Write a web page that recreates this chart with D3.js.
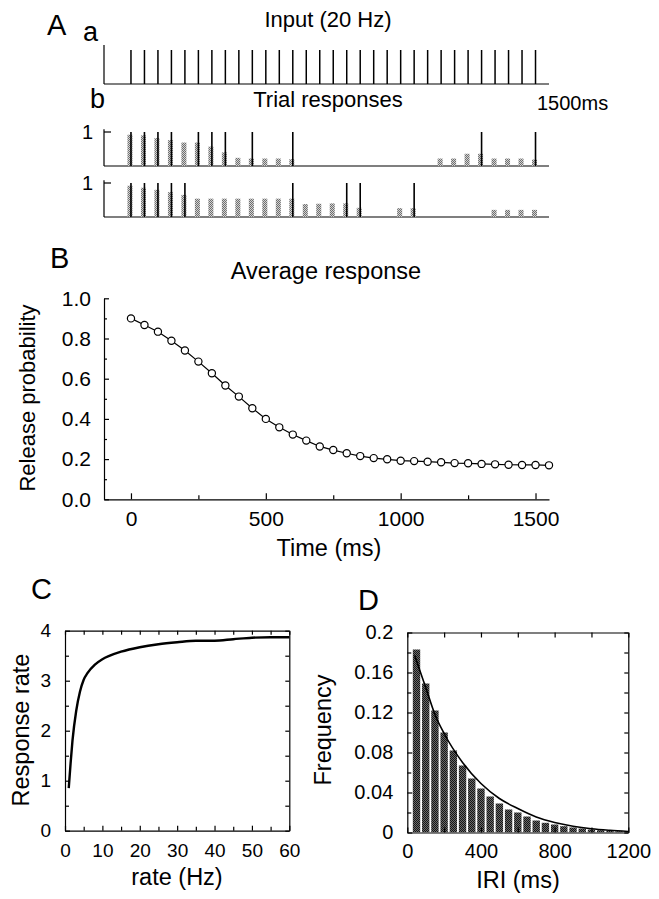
<!DOCTYPE html>
<html><head><meta charset="utf-8">
<script src="https://cdn.jsdelivr.net/npm/d3@7/dist/d3.min.js"></script>
<style>
body{margin:0;background:#fff}
svg{display:block;font-family:"Liberation Sans",Arial,Helvetica,sans-serif}
.ax path,.ax line{stroke:#000;stroke-width:1.2}
.ax text{fill:#000}
</style></head><body>
<svg id="c" width="659" height="899"></svg>
<script>
// ---------------- DATA ----------------
// Panel A(a): input spike train, 20 Hz over 1500 ms
const inputTimes = [0,50,100,150,200,250,300,350,400,450,500,550,600,650,700,750,800,850,900,950,1000,1050,1100,1150,1200,1250,1300,1350,1400,1450,1500];
// Panel A(b): trial responses
const trial1Spikes = [0,50,100,150,250,300,350,450,600,1300,1500];
const trial1Times  = [0,50,100,150,200,250,300,350,400,450,500,550,600,1150,1200,1250,1300,1350,1400,1450,1500];
const trial1Prob   = [0.92,0.90,0.82,0.76,0.69,0.69,0.57,0.40,0.24,0.22,0.22,0.22,0.20,0.22,0.22,0.36,0.36,0.22,0.22,0.22,0.19];
const trial2Spikes = [0,50,100,150,200,600,800,850,1050];
const trial2Times  = [0,50,100,150,200,250,300,350,400,450,500,550,600,650,700,750,800,850,1000,1050,1350,1400,1450,1500];
const trial2Prob   = [0.92,0.86,0.80,0.73,0.65,0.54,0.54,0.54,0.54,0.54,0.54,0.54,0.54,0.38,0.39,0.40,0.40,0.27,0.26,0.26,0.21,0.21,0.21,0.21];
// Panel B: average response
const avgTimes = [0,50,100,150,200,250,300,350,400,450,500,550,600,650,700,750,800,850,900,950,1000,1050,1100,1150,1200,1250,1300,1350,1400,1450,1500,1550];
const avgProb  = [0.900,0.867,0.834,0.789,0.740,0.685,0.627,0.566,0.511,0.453,0.400,0.358,0.322,0.292,0.263,0.245,0.229,0.215,0.205,0.199,0.192,0.190,0.187,0.184,0.180,0.179,0.176,0.174,0.172,0.171,0.171,0.169];
const avgYTicks = [0,0.2,0.4,0.6,0.8,1.0];
const avgXTicks = [0,500,1000,1500];
// Panel C: response rate vs input rate
const rateHz   = [1,1.5,2,3,4,5,6,8,10,12,15,20,25,30,35,40,45,50,55,60];
const respRate = [0.85,1.35,1.80,2.40,2.78,3.02,3.15,3.32,3.43,3.50,3.58,3.67,3.73,3.77,3.80,3.80,3.83,3.86,3.87,3.87];
const cXTicks = [0,10,20,30,40,50,60];
const cYTicks = [0,1,2,3,4];
// Panel D: IRI histogram and fit
const iriBins = [50,100,150,200,250,300,350,400,450,500,550,600,650,700,750,800,850,900,950,1000,1050,1100,1150,1200];
const iriFreq = [0.183,0.149,0.122,0.100,0.082,0.067,0.054,0.044,0.036,0.029,0.023,0.020,0.016,0.012,0.0097,0.008,0.0063,0.005,0.004,0.003,0.0023,0.0017,0.0013,0.001];
const fitT = [40,100,150,200,300,400,500,600,700,800,900,1000,1100,1200];
const fitV = [0.177,0.145,0.118,0.099,0.070,0.049,0.034,0.024,0.0155,0.010,0.0063,0.0038,0.0022,0.001];
const dXTicks = [0,400,800,1200];
const dYTicks = [0,0.04,0.08,0.12,0.16,0.2];

// ---------------- DRAW ----------------
const svg = d3.select("#c");
const defs = svg.append("defs");
const FONT = "Liberation Sans, Arial, sans-serif";
function dotPattern(id, bg, fg){
  const p = defs.append("pattern").attr("id",id).attr("width",2).attr("height",2).attr("patternUnits","userSpaceOnUse");
  p.append("rect").attr("width",2).attr("height",2).attr("fill",bg);
  p.append("rect").attr("x",0).attr("y",0).attr("width",1).attr("height",1).attr("fill",fg);
  p.append("rect").attr("x",1).attr("y",1).attr("width",1).attr("height",1).attr("fill",fg);
}
dotPattern("light","#d2d2d2","#6e6e6e");
dotPattern("dark","#6a6a6a","#161616");

function txt(x,y,s,size,anchor,rot){
  const t = svg.append("text").attr("x",x).attr("y",y).attr("font-size",size)
    .attr("text-anchor",anchor||"start").text(s);
  if(rot) t.attr("transform",`rotate(${rot},${x},${y})`);
  return t;
}
function line(x1,y1,x2,y2,w){
  svg.append("line").attr("x1",x1).attr("y1",y1).attr("x2",x2).attr("y2",y2)
    .attr("stroke","#000").attr("stroke-width",w||1.2);
}

// shared time scale for A & B
const xTime = d3.scaleLinear().domain([-100,1550]).range([104,549]);

// ---- Panel A ----
txt(47,35,"A",29);
txt(83,41,"a",27);
txt(328,27,"Input (20 Hz)",22,"middle");
const yA = d3.scaleLinear().domain([0,1]).range([84,50]);
line(xTime(-100),45,xTime(-100),yA(0));
line(xTime(-100),yA(0),xTime(1550),yA(0));
svg.append("g").selectAll("line").data(inputTimes).join("line")
  .attr("x1",d=>xTime(d)).attr("x2",d=>xTime(d))
  .attr("y1",yA(0)).attr("y2",yA(1)).attr("stroke","#000").attr("stroke-width",1.5);

txt(90,108,"b",27);
txt(328,107,"Trial responses",22,"middle");
txt(537,110,"1500ms",20,"start");

const trials = [
  {spikes:trial1Spikes, times:trial1Times, prob:trial1Prob, range:[166,132]},
  {spikes:trial2Spikes, times:trial2Times, prob:trial2Prob, range:[217,183]}
];
trials.forEach(tr=>{
  const y = d3.scaleLinear().domain([0,1]).range(tr.range);
  const x0 = xTime(-100);
  line(x0,y(1.08),x0,y(0));
  line(x0,y(1),x0+7,y(1));
  line(x0,y(0),xTime(1550),y(0));
  txt(x0-11,y(1)+7,"1",20,"end");
  const g = svg.append("g");
  g.selectAll("rect").data(tr.times.map((t,i)=>({t,p:tr.prob[i]}))).join("rect")
    .attr("x",d=>xTime(d.t)-3.5).attr("width",5)
    .attr("y",d=>y(d.p)).attr("height",d=>y(0)-y(d.p))
    .attr("fill","url(#light)");
  g.selectAll("line").data(tr.spikes).join("line")
    .attr("x1",d=>xTime(d)).attr("x2",d=>xTime(d))
    .attr("y1",y(0)).attr("y2",y(1)).attr("stroke","#000").attr("stroke-width",1.6);
});

// ---- Panel B ----
txt(50,268,"B",29);
txt(326,279,"Average response",23.5,"middle");
const yB = d3.scaleLinear().domain([0,1]).range([499.3,298.3]);
const gB = svg.append("g");
gB.append("g").attr("class","ax").attr("transform",`translate(${xTime(-100)},0)`)
  .call(d3.axisLeft(yB).tickValues(avgYTicks).tickSizeInner(-5).tickSizeOuter(0).tickPadding(13).tickFormat(d3.format(".1f")))
  .selectAll("text").attr("font-size",21).attr("font-family",FONT);
gB.append("g").attr("class","ax").attr("transform",`translate(${xTime(-100)},0)`)
  .call(d3.axisLeft(yB).tickValues([0.1,0.3,0.5,0.7,0.9]).tickSize(-3).tickFormat(""))
  .select(".domain").remove();
gB.append("g").attr("class","ax").attr("transform",`translate(0,${yB(0)})`)
  .call(d3.axisBottom(xTime).tickValues(avgXTicks).tickSizeInner(-6).tickSizeOuter(0).tickPadding(12).tickFormat(d3.format("d")))
  .selectAll("text").attr("font-size",21).attr("font-family",FONT);
gB.append("g").attr("class","ax").attr("transform",`translate(0,${yB(0)})`)
  .call(d3.axisBottom(xTime).tickValues([250,750,1250]).tickSize(-4).tickFormat(""))
  .select(".domain").remove();
gB.append("path").datum(avgTimes.map((t,i)=>[t,avgProb[i]]))
  .attr("d",d3.line().x(d=>xTime(d[0])).y(d=>yB(d[1])))
  .attr("fill","none").attr("stroke","#000").attr("stroke-width",1.2);
gB.selectAll("circle").data(avgTimes.map((t,i)=>[t,avgProb[i]])).join("circle")
  .attr("cx",d=>xTime(d[0])).attr("cy",d=>yB(d[1])).attr("r",3.6)
  .attr("fill","#fff").attr("stroke","#000").attr("stroke-width",1.2);
txt(329,556,"Time (ms)",23.5,"middle");
txt(35,398,"Release probability",22,"middle",-90);

// ---- Panel C ----
txt(31,599,"C",29);
const xC = d3.scaleLinear().domain([0,60]).range([65,289.3]);
const yC = d3.scaleLinear().domain([0,4]).range([830.7,630.7]);
const gC = svg.append("g");
const minorC = [5,15,25,35,45,55];
const minorCy = [0.5,1.5,2.5,3.5];
gC.append("g").attr("class","ax").attr("transform",`translate(0,${yC(0)})`)
  .call(d3.axisBottom(xC).tickValues(cXTicks).tickSizeInner(-5).tickSizeOuter(0).tickPadding(13).tickFormat(d3.format("d")))
  .selectAll("text").attr("font-size",19).attr("font-family",FONT);
gC.append("g").attr("class","ax").attr("transform",`translate(0,${yC(0)})`)
  .call(d3.axisBottom(xC).tickValues(minorC).tickSize(-4).tickFormat("")).select(".domain").remove();
gC.append("g").attr("class","ax").attr("transform",`translate(0,${yC(4)})`)
  .call(d3.axisTop(xC).tickValues(cXTicks.concat(minorC)).tickSizeInner(-4).tickSizeOuter(0).tickFormat(""));
gC.append("g").attr("class","ax").attr("transform",`translate(${xC(0)},0)`)
  .call(d3.axisLeft(yC).tickValues(cYTicks).tickSizeInner(-5).tickSizeOuter(0).tickPadding(14).tickFormat(d3.format("d")))
  .selectAll("text").attr("font-size",19).attr("font-family",FONT);
gC.append("g").attr("class","ax").attr("transform",`translate(${xC(0)},0)`)
  .call(d3.axisLeft(yC).tickValues(minorCy).tickSize(-4).tickFormat("")).select(".domain").remove();
gC.append("g").attr("class","ax").attr("transform",`translate(${xC(60)},0)`)
  .call(d3.axisRight(yC).tickValues(cYTicks.concat(minorCy)).tickSizeInner(-4).tickSizeOuter(0).tickFormat(""));
gC.append("path").datum(rateHz.map((r,i)=>[r,respRate[i]]))
  .attr("d",d3.line().curve(d3.curveMonotoneX).x(d=>xC(d[0])).y(d=>yC(d[1])))
  .attr("fill","none").attr("stroke","#000").attr("stroke-width",2.4);
txt(177,885,"rate (Hz)",23.5,"middle");
txt(29,730,"Response rate",23.5,"middle",-90);

// ---- Panel D ----
txt(358,610,"D",29);
const xD = d3.scaleLinear().domain([0,1200]).range([407.3,628.3]);
const yD = d3.scaleLinear().domain([0,0.2]).range([832.5,632.5]);
const gD = svg.append("g");
defs.append("clipPath").attr("id","dclip").append("rect")
  .attr("x",xD(0)).attr("y",yD(0.2)).attr("width",xD(1200)-xD(0)).attr("height",yD(0)-yD(0.2));
gD.append("g").attr("clip-path","url(#dclip)").selectAll("rect")
  .data(iriBins.map((t,i)=>[t,iriFreq[i]])).join("rect")
  .attr("x",d=>xD(d[0]-20)).attr("width",xD(40)-xD(0))
  .attr("y",d=>yD(d[1])).attr("height",d=>yD(0)-yD(d[1]))
  .attr("fill","url(#dark)");
gD.append("path").datum(fitT.map((t,i)=>[t,fitV[i]]))
  .attr("d",d3.line().curve(d3.curveMonotoneX).x(d=>xD(d[0])).y(d=>yD(d[1])))
  .attr("fill","none").attr("stroke","#000").attr("stroke-width",1.6);
const dFmt = d=> d===0 ? "0" : String(+d.toFixed(2));
const dXAll = [0,200,400,600,800,1000,1200];
const dYAll = [0,0.02,0.04,0.06,0.08,0.1,0.12,0.14,0.16,0.18,0.2];
gD.append("g").attr("class","ax").attr("transform",`translate(0,${yD(0)})`)
  .call(d3.axisBottom(xD).tickValues(dXTicks).tickSizeInner(-5).tickSizeOuter(0).tickPadding(11).tickFormat(d3.format("d")))
  .selectAll("text").attr("font-size",20).attr("font-family",FONT);
gD.append("g").attr("class","ax").attr("transform",`translate(0,${yD(0)})`)
  .call(d3.axisBottom(xD).tickValues([200,600,1000]).tickSize(-5).tickFormat("")).select(".domain").remove();
gD.append("g").attr("class","ax").attr("transform",`translate(0,${yD(0.2)})`)
  .call(d3.axisTop(xD).tickValues(dXAll).tickSizeInner(-5).tickSizeOuter(0).tickFormat(""));
gD.append("g").attr("class","ax").attr("transform",`translate(${xD(0)},0)`)
  .call(d3.axisLeft(yD).tickValues(dYTicks).tickSizeInner(-5).tickSizeOuter(0).tickPadding(14).tickFormat(dFmt))
  .selectAll("text").attr("font-size",20).attr("font-family",FONT);
gD.append("g").attr("class","ax").attr("transform",`translate(${xD(0)},0)`)
  .call(d3.axisLeft(yD).tickValues([0.02,0.06,0.1,0.14,0.18]).tickSize(-4).tickFormat("")).select(".domain").remove();
gD.append("g").attr("class","ax").attr("transform",`translate(${xD(1200)},0)`)
  .call(d3.axisRight(yD).tickValues(dYAll).tickSizeInner(-4).tickSizeOuter(0).tickFormat(""));
txt(518,888,"IRI (ms)",23.5,"middle");
txt(331,730,"Frequency",23.5,"middle",-90);
</script>
</body></html>
